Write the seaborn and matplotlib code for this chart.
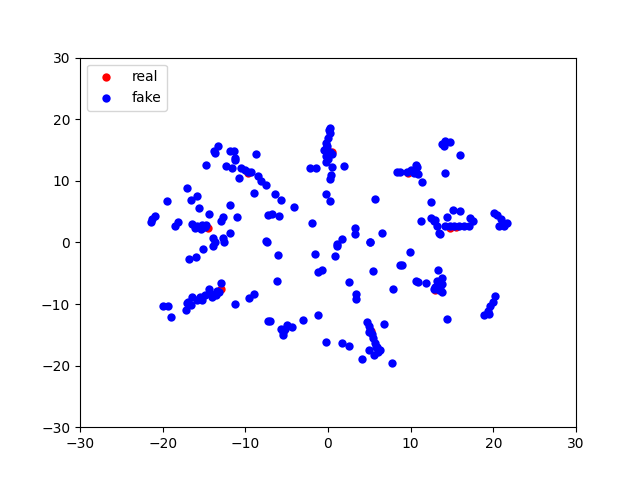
import matplotlib
matplotlib.use("Agg")
import matplotlib.pyplot as plt
import seaborn as sns

# t-SNE embedding, values
real_x = [-14.5, -12.9, 14.8, -9.7, 9.7, 0.45, -5.3, 5.2, 12.9, -15.3, 15.5]
real_y = [2.3, -7.6, 2.4, 11.3, 11.3, 14.6, -14.2, -14.4, -7.8, 2.6, 2.5]

fake_x = [
    # column near x=0
    0.3, 0.2, 0.0, -0.25, -0.1, -0.45, 0.2, -0.2, -0.25, 0.5, 0.1, -0.3, 0.0,
    -2.2, -1.4, 0.5, 1.9, 0.4, 0.2, 8.3,
    -6.4, -5.7, -4.1, -6.8, -5.9, -1.9, -0.2, 0.2, 5.7, 3.3, 3.3, 6.5, 5.1, 1.7, 1.1,
    # upper left
    -13.3, -13.8, -13.7, -11.9, -11.4, -11.3, -11.2, -8.7, -14.7, -10.5, -10.1,
    -9.7, -9.3, -8.5, -8.05, -7.5, -10.8, -8.9, -17.0, -15.9, -16.6, -19.5,
    -15.6, -11.9, -14.4, -11.0, -12.7, -13.0, -7.2, -20.9, -21.3, -21.4,
    -18.2, -18.5, -16.4, -15.8, -15.2, -14.7, -16.1, -15.4, -14.9, -11.9,
    -13.9, -13.7, -12.7, -12.6, -7.5, -11.6, -12.3,
    # lower left
    -7.4, -15.1, -13.9, -16.8, -16.0, -13.0, -14.4, -16.4, -17.1, -14.9,
    -14.2, -13.5, -15.8, -15.2, -13.4, -17.2, -16.6, -19.9, -19.4, -19.0,
    -11.3, -9.5, -9.0, -7.3, -14.0, -13.2, -15.5, -16.9,
    # center bottom
    -6.0, -1.6, 0.9, 1.1, 5.1, -1.2, -0.7, 5.5, 8.7, -6.2, 2.6, 3.4, 3.4, 7.9,
    -7.0, -3.0, -1.2, -5.0, -4.4, -5.7, -5.4, -5.2, -5.5, -0.3, 1.7, 2.5, 6.8,
    4.7, 4.9, 5.1, 5.3, 5.5, 5.7, 5.9, 6.1, 6.3, 4.9, 4.1, 7.7, 5.6, 5.0, 5.8,
    # upper right
    13.8, 14.2, 14.8, 14.0, 16.0, 9.6, 10.0, 10.6, 10.8, 10.4, 10.9, 8.75,
    11.4, 14.1, 12.4, 11.2, 12.5, 12.8, 16.0, 15.1, 14.4, 17.2, 20.1, 20.5,
    20.9, 21.7, 20.7, 21.3, 13.2, 13.4, 13.6, 14.2, 14.7, 15.3, 15.9, 16.4,
    17.0, 13.0, 17.5,
    # lower right
    9.9, 9.0, 13.3, 10.6, 10.9, 11.9, 13.2, 13.8, 13.8, 12.8, 13.4, 13.8,
    14.4, 20.2, 19.9, 19.6, 19.3, 18.9, 19.5, 13.0, 13.6,
]
fake_y = [
    18.6, 17.8, 16.9, 16.1, 15.6, 15.0, 14.6, 14.0, 13.1, 14.3, 18.2, 15.3, 13.6,
    12.1, 12.1, 12.2, 12.4, 11.0, 10.3, 11.4,
    7.8, 6.9, 5.7, 4.6, 4.3, 3.1, 7.9, 6.7, 7.1, 2.3, 1.3, 1.5, 0.1, 0.5, -0.3,
    15.6, 14.8, 14.5, 14.8, 14.8, 13.4, 13.7, 14.3, 12.6, 12.1, 11.8,
    11.5, 11.4, 10.8, 9.9, 9.3, 10.4, 8.0, 8.8, 7.6, 6.9, 6.7,
    5.6, 6.0, 4.6, 4.1, 4.1, 3.5, 4.4, 4.3, 3.8, 3.3,
    3.3, 2.7, 3.0, 2.6, 2.9, 2.8, 2.3, 2.2, 2.5, 1.5,
    0.7, 0.1, 0.7, 0.1, 0.2, 12.0, 12.4,
    0.1, -1.1, -0.6, -2.7, -2.4, -6.6, -7.5, -8.9, -9.8, -8.5,
    -8.3, -8.5, -9.3, -9.3, -7.9, -11.0, -10.2, -10.3, -10.3, -12.1,
    -10.0, -9.1, -8.4, -12.8, -8.8, -8.0, -8.9, -9.6,
    -2.0, -1.9, -2.2, -0.6, 0.0, -4.8, -4.4, -4.6, -3.7, -6.2, -6.5, -8.3, -9.2, -7.6,
    -12.8, -12.6, -11.8, -13.4, -13.7, -14.1, -15.0, -14.0, -14.5, -16.2, -16.4, -16.8, -13.3,
    -13.0, -13.6, -14.2, -14.8, -15.6, -16.4, -16.9, -17.8, -17.4, -17.5, -18.9, -19.5, -18.3, -14.6, -17.0,
    15.9, 16.4, 16.3, 15.7, 14.2, 11.5, 11.8, 12.6, 12.3, 11.2, 11.1, 11.5,
    9.8, 11.3, 6.5, 3.5, 3.9, 3.4, 5.1, 5.3, 4.2, 3.9, 4.7, 4.5,
    3.8, 3.1, 2.6, 2.7, 2.6, 1.5, 1.3, 2.6, 2.6, 2.7, 2.6, 2.7,
    2.7, 3.6, 3.4,
    -1.6, -3.7, -4.4, -6.2, -6.4, -6.6, -6.2, -5.8, -6.8, -7.6, -7.7, -8.1,
    -12.5, -8.7, -9.6, -10.4, -11.1, -11.8, -11.6, -7.2, -7.3,
]

plt.figure(figsize=(6.4, 4.8), dpi=100)
sns.scatterplot(x=real_x, y=real_y, color='red', s=36, linewidth=0, label='real')
sns.scatterplot(x=fake_x, y=fake_y, color='blue', s=36, linewidth=0, label='fake')

plt.xlim(-30, 30)
plt.ylim(-30, 30)
plt.legend(loc='upper left')

plt.savefig('out.png', dpi=100)
